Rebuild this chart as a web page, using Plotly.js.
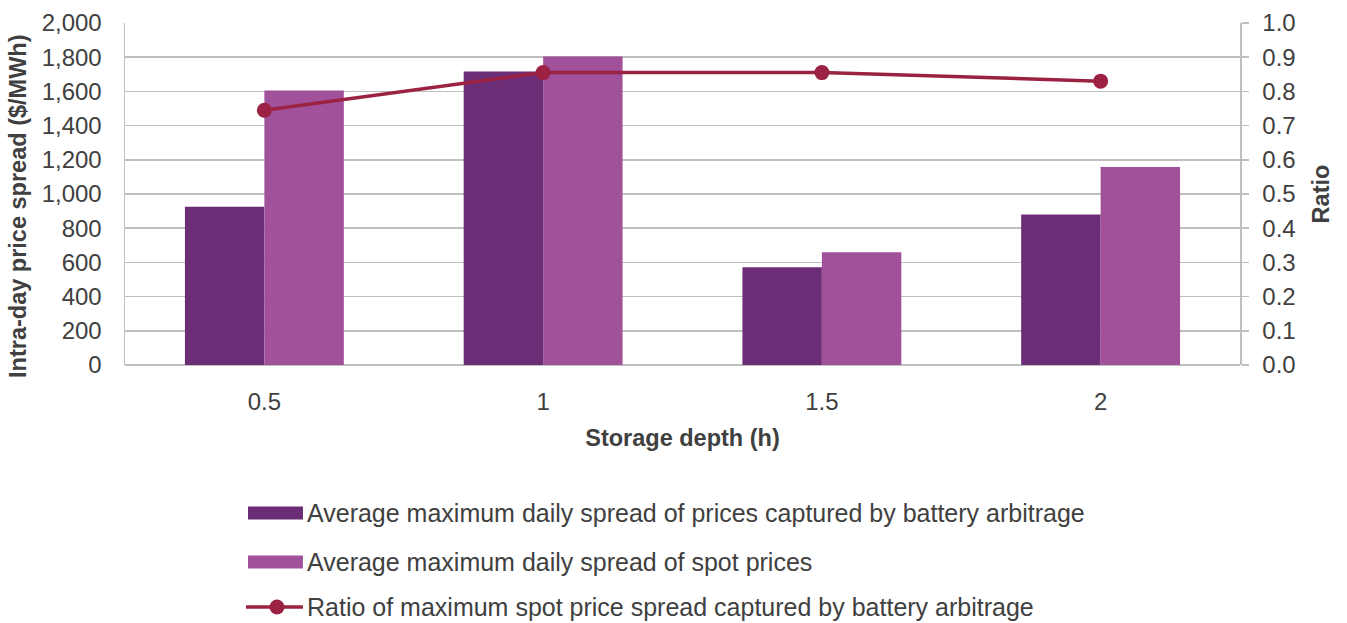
<!DOCTYPE html>
<html>
<head>
<meta charset="utf-8">
<script src="https://cdn.plot.ly/plotly-3.0.1.min.js"></script>
<style>html,body{margin:0;padding:0;background:#fff;}#chart{width:1347px;height:623px;}</style>
</head>
<body>
<div id="chart"></div>
<script>
const categories = ["0.5", "1", "1.5", "2"];
const capturedSpread = [925, 1717, 572, 880];
const spotSpread = [1605, 1804, 660, 1158];
const ratio = [0.745, 0.855, 0.855, 0.830];

const seriesNames = [
  "Average maximum daily spread of prices captured by battery arbitrage",
  "Average maximum daily spread of spot prices",
  "Ratio of maximum spot price spread captured by battery arbitrage"
];
const yTitle = "Intra-day price spread ($/MWh)";
const y2Title = "Ratio";
const xTitle = "Storage depth (h)";

const colDark = "#6b2d75";
const colLight = "#a15199";
const colLine = "#9b2242";
const txt = "#404040";
const grid = "#bfbfbf";
const font = "Liberation Sans, Arial, sans-serif";

const traces = [
  {type: "bar", x: categories, y: capturedSpread, name: seriesNames[0],
   marker: {color: colDark}, yaxis: "y"},
  {type: "bar", x: categories, y: spotSpread, name: seriesNames[1],
   marker: {color: colLight}, yaxis: "y"},
  {type: "scatter", mode: "lines+markers", x: categories, y: ratio, name: seriesNames[2],
   line: {color: colLine, width: 3.5}, marker: {color: colLine, size: 15}, yaxis: "y2"}
];

// custom legend (paper coordinates)
const legY = [-0.4327, -0.576, -0.7076];
const symX0 = 0.1103, symX1 = 0.1596, txtX = 0.1614;
const shapes = [
  {type: "rect", xref: "paper", yref: "paper", x0: symX0, x1: symX1,
   y0: legY[0] - 0.019, y1: legY[0] + 0.019, fillcolor: colDark, line: {width: 0}},
  {type: "rect", xref: "paper", yref: "paper", x0: symX0, x1: symX1,
   y0: legY[1] - 0.019, y1: legY[1] + 0.019, fillcolor: colLight, line: {width: 0}},
  {type: "line", xref: "paper", yref: "paper", x0: 0.1085, x1: symX1,
   y0: legY[2], y1: legY[2], line: {color: colLine, width: 3.5}},
  {type: "circle", xref: "paper", yref: "paper", x0: 0.1363 - 0.0067, x1: 0.1363 + 0.0067,
   y0: legY[2] - 0.022, y1: legY[2] + 0.022, fillcolor: colLine, line: {width: 0}}
];
const annotations = seriesNames.map((n, i) => ({
  xref: "paper", yref: "paper", x: txtX, y: legY[i], xanchor: "left", yanchor: "middle",
  text: n, showarrow: false, font: {family: font, size: 25, color: txt}
}));
annotations.push({
  xref: "paper", yref: "paper", x: -0.096, y: 0.465, xanchor: "center", yanchor: "middle",
  text: "<b>" + yTitle + "</b>", textangle: -90, showarrow: false,
  font: {family: font, size: 23.5, color: txt}
});

const layout = {
  width: 1347, height: 623,
  margin: {l: 125, r: 107, t: 23, b: 258},
  paper_bgcolor: "#fff", plot_bgcolor: "#fff",
  font: {family: font, size: 24, color: txt},
  barmode: "group", bargap: 0.43, bargroupgap: 0,
  showlegend: false,
  shapes: shapes,
  annotations: annotations,
  xaxis: {type: "category", showgrid: false, zeroline: false, showline: false,
          ticks: "", tickfont: {size: 24, color: txt}, ticklabelstandoff: 20,
          title: {text: "<b>" + xTitle + "</b>", font: {size: 23.5, color: txt}, standoff: 15}},
  yaxis: {range: [0, 2000], dtick: 200, tickformat: ",d", showgrid: true,
          gridcolor: grid, gridwidth: 1.5, zeroline: true, zerolinecolor: grid, zerolinewidth: 1.5,
          showline: true, linecolor: grid, linewidth: 1.5, ticks: "", ticklabelstandoff: 17,
          tickfont: {size: 24, color: txt}},
  yaxis2: {range: [0, 1], dtick: 0.1, tickformat: ".1f", overlaying: "y", side: "right",
           showgrid: false, zeroline: false, showline: true, linecolor: grid, linewidth: 1.5,
           ticks: "outside", ticklen: 7, tickcolor: grid, tickwidth: 1.5, ticklabelstandoff: 9,
           tickfont: {size: 24, color: txt},
           title: {text: "<b>" + y2Title + "</b>", font: {size: 23.5, color: txt}, standoff: 18}}
};

Plotly.newPlot("chart", traces, layout, {displayModeBar: false, staticPlot: true});
</script>
</body>
</html>
